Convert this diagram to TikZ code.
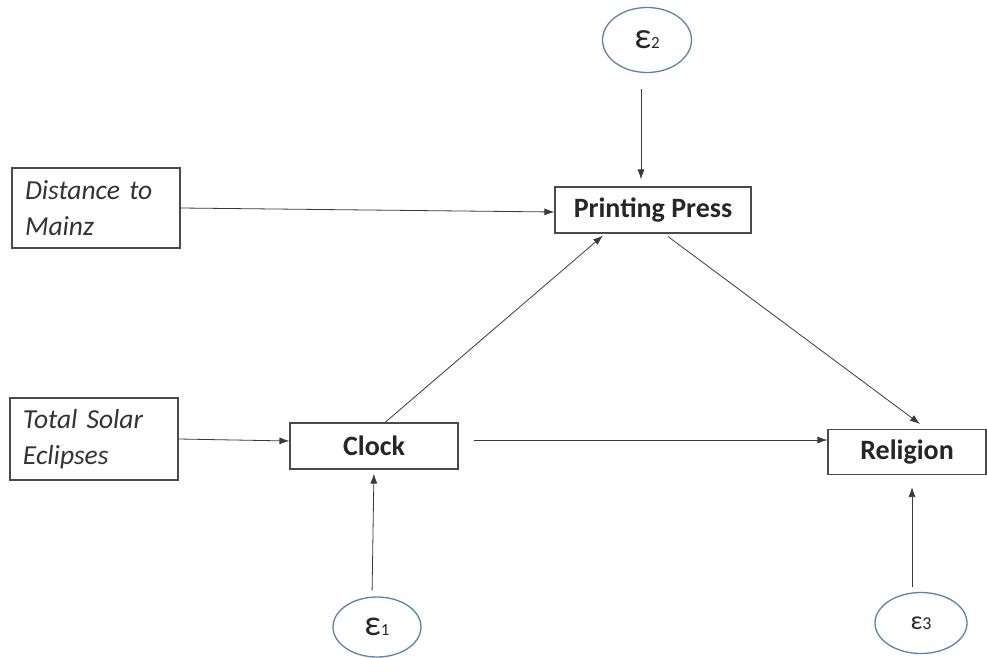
\documentclass[tikz,border=0pt]{standalone}
\usepackage{fontspec}
\setmainfont{Carlito}
\usepackage{tikz}
\usetikzlibrary{arrows.meta,shapes.geometric}
\definecolor{pathLine}{HTML}{3A3A3A}
\definecolor{boxLine}{HTML}{4A4A4A}
\definecolor{errBlue}{HTML}{5A82AE}

\tikzset{
  varbox/.style={draw=boxLine,line width=1.1pt,fill=white,inner sep=0pt},
  instbox/.style={varbox,align=left,text width=156pt,
                  font=\fontsize{27.5}{36}\selectfont\itshape,text=black!80},
  mainbox/.style={varbox,font=\fontsize{28}{30}\selectfont\bfseries,text=black!85},
  errnode/.style={ellipse,draw=errBlue,line width=1.3pt,inner sep=0pt,text=black!85},
  pathline/.style={draw=pathLine,line width=0.8pt,-{Latex[length=10pt,width=7pt]}}
}
\newcommand{\errlabel}[3]{{\fontsize{#1}{#1}\selectfont ε}{\fontsize{#2}{#2}\selectfont #3}}

\begin{document}
\begin{tikzpicture}[x=1pt,y=-1pt]
  \useasboundingbox (0,0) rectangle (987,658);

    % exogenous instruments on the left
    \node[instbox,minimum width=168pt,minimum height=80pt] (dist) at (96,208)
      {\hspace*{7pt}Distance to\\\hspace*{7pt}Mainz};
    \node[instbox,minimum width=168pt,minimum height=82pt] (tse) at (94,439)
      {\hspace*{7pt}Total Solar\\\hspace*{7pt}Eclipses};

    % endogenous variables
    \node[mainbox,minimum width=196pt,minimum height=46pt] (press) at (653,210) {Printing Press};
    \node[mainbox,minimum width=168pt,minimum height=46pt] (clock) at (374,446) {Clock};
    \node[mainbox,minimum width=158pt,minimum height=45pt] (religion) at (907,452) {Religion};

    % error terms
    \node[errnode,minimum width=89pt,minimum height=65pt] (e2) at (647,40) {\errlabel{37}{17}{2}};
    \node[errnode,minimum width=88pt,minimum height=60pt] (e1) at (377,627) {\errlabel{36}{17}{1}};
    \node[errnode,minimum width=92pt,minimum height=61pt] (e3) at (921,623) {\errlabel{26}{18}{3}};

    % paths
    \draw[pathline] (dist.east) -- ([yshift=-2pt]press.west);
    \draw[pathline] (tse.east) -- ([yshift=5pt]clock.west);
    \draw[pathline] ([xshift=11pt]clock.north) -- ([xshift=-50pt,yshift=-2pt]press.south);
    \draw[pathline] ([xshift=15pt,yshift=-3pt]press.south) -- ([xshift=13pt,yshift=5pt]religion.north);
    \draw[pathline] ([xshift=15pt,yshift=6pt]clock.east) -- ([yshift=12pt]religion.west);
    \draw[pathline,shorten <=16pt,shorten >=7pt] ([xshift=-6pt]e2.south) -- ([xshift=-12pt]press.north);
    \draw[pathline,shorten <=6pt,shorten >=4pt] ([xshift=-5pt]e1.north) -- (clock.south);
    \draw[pathline,shorten <=5pt,shorten >=12pt] ([xshift=-9pt]e3.north) -- ([xshift=5pt]religion.south);
\end{tikzpicture}
\end{document}
